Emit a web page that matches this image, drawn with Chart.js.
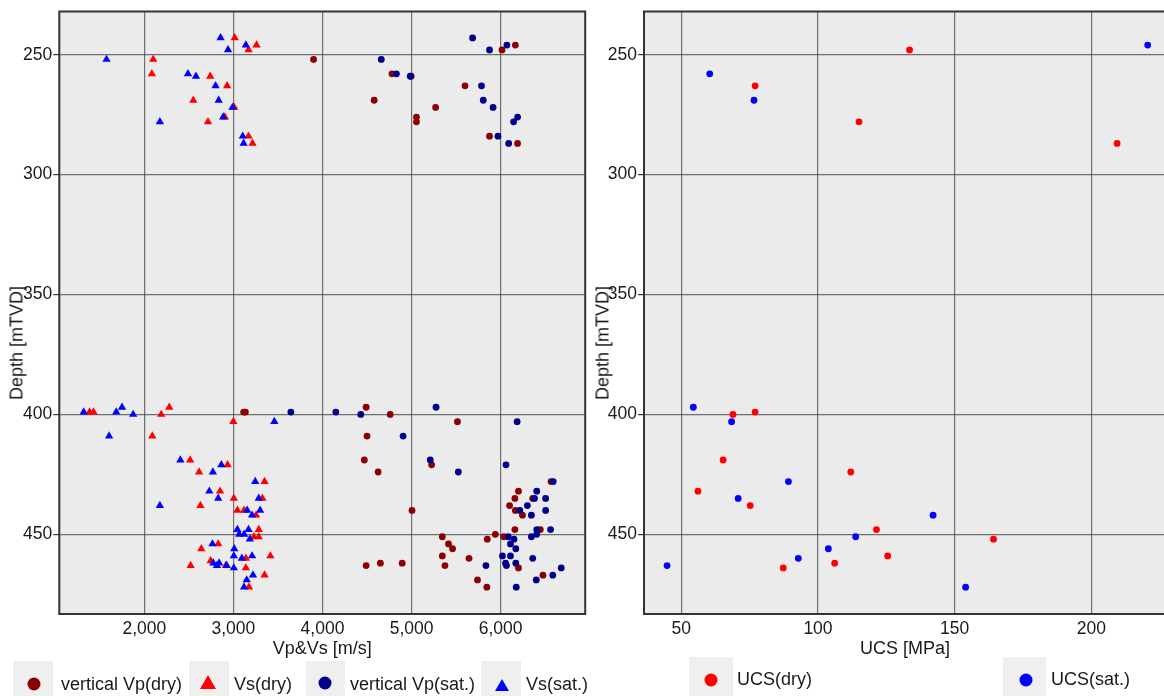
<!DOCTYPE html>
<html>
<head>
<meta charset="utf-8">
<script src="https://cdn.jsdelivr.net/npm/chart.js@4.4.1/dist/chart.umd.min.js"></script>
<style>
html,body{margin:0;padding:0;background:#fff;width:1164px;height:696px;overflow:hidden;font-family:"Liberation Sans",Arial,sans-serif;color:#1a1a1a}
#wrapL{position:absolute;left:0;top:0;width:590px;height:672px}
#wrapR{position:absolute;left:590px;top:0;width:580px;height:672px}
.ytitle{position:absolute;font-size:18px;white-space:nowrap;transform:translate(-50%,-50%) rotate(-90deg)}
.box{position:absolute;background:#efefef;height:40px}
.lab{position:absolute;font-size:18px;white-space:nowrap;transform:translateY(-50%)}
.dot{position:absolute;width:13px;height:13px;border-radius:50%;transform:translate(-50%,-50%)}
.tri{position:absolute;width:0;height:0;transform:translate(-50%,-50%)}
</style>
</head>
<body>
<div id="wrapL"><canvas id="velChart" width="590" height="672"></canvas></div>
<div id="wrapR"><canvas id="ucsChart" width="580" height="672"></canvas></div>

<div class="ytitle" style="left:17px;top:343px">Depth [mTVD]</div>
<div class="ytitle" style="left:603px;top:343px">Depth [mTVD]</div>

<!-- legend, left panel -->
<div class="box" style="left:13px;top:661px;width:40px"></div>
<div class="dot" style="left:34px;top:684px;background:#8b0000"></div>
<div class="lab" style="left:61px;top:684px">vertical Vp(dry)</div>
<div class="box" style="left:189px;top:661px;width:40px"></div>
<div class="tri" style="left:208px;top:682px;border-left:8px solid transparent;border-right:8px solid transparent;border-bottom:14px solid #ff0000"></div>
<div class="lab" style="left:234px;top:684px">Vs(dry)</div>
<div class="box" style="left:306px;top:661px;width:39px"></div>
<div class="dot" style="left:325px;top:683px;background:#00008b"></div>
<div class="lab" style="left:350px;top:684px">vertical Vp(sat.)</div>
<div class="box" style="left:481px;top:661px;width:40px"></div>
<div class="tri" style="left:502px;top:685px;border-left:7px solid transparent;border-right:7px solid transparent;border-bottom:12px solid #0000ff"></div>
<div class="lab" style="left:526px;top:684px">Vs(sat.)</div>

<!-- legend, right panel -->
<div class="box" style="left:689px;top:657px;width:44px"></div>
<div class="dot" style="left:711px;top:680px;background:#ff0000"></div>
<div class="lab" style="left:737px;top:679px">UCS(dry)</div>
<div class="box" style="left:1003px;top:657px;width:43px"></div>
<div class="dot" style="left:1026px;top:680px;background:#0000ff"></div>
<div class="lab" style="left:1051px;top:679px">UCS(sat.)</div>

<script>
/* Data */

const depthTicks=[250,300,350,400,450];
const velTicks=[2000,3000,4000,5000,6000];
const ucsTicks=[50,100,150,200];

const vpDryVel=[3900,4780,4995,4580,5055,5055,5270,5600,6015,6165,5875,6190,
3115,3135,4490,4760,4500,4470,4625,5515,5225,5005,4490,4650,4895,6565,6200,6160,6360,6100,6165,6245,6160,6445,5940,5850,6035,5345,5415,5460,5345,5645,5375,6200,6475,5740,5845];
const vpDryDepth=[252,258,259,269,276,278,272,263,248,246,284,287,
399,399,397,400,409,419,424,403,421,440,463,462,462,428,432,435,435,438,440,442,448,448,450,452,451,451,454,456,459,460,463,464,467,469,472];

const vsDryVel=[3015,3170,3260,2100,2085,2740,2930,2550,3010,2905,2715,3170,3215,
1385,1430,2190,2280,2090,3000,2515,2615,2935,3350,2850,3005,3325,2630,3045,3120,3255,3285,3230,3285,2830,2640,3140,3415,2520,2745,2915,3140,3350,3175];
const vsDryDepth=[243,248,246,252,258,259,263,269,272,276,278,284,287,
399,399,400,397,409,403,419,424,421,428,432,435,435,438,440,440,442,448,451,451,454,456,460,459,463,461,463,464,467,472];

const vpSatVel=[4660,4830,4985,5685,5875,6070,5785,5805,5915,6190,6145,5970,6090,
3645,4150,4430,5275,6185,4905,5210,5525,6060,6590,6405,6505,6380,6300,6215,6345,6505,6405,6560,6405,6345,6085,6150,6110,6170,6020,6110,6055,6065,6170,6360,5835,6680,6585,6400,6175];
const vpSatDepth=[252,258,259,243,248,246,263,269,272,276,278,284,287,
399,399,400,397,403,409,419,424,421,428,432,435,435,438,440,442,440,448,448,450,451,451,452,454,456,459,459,462,463,462,460,463,464,467,469,472];

const vsSatVel=[1576,2856,2940,3140,2490,2580,2800,2835,2990,2885,2175,3105,3115,
1320,1685,1750,1875,1605,3460,2405,2770,2865,3245,2730,2830,3285,2175,3155,3210,3300,3045,3170,3065,3120,3185,2765,3010,3005,3095,3210,2775,2815,2840,2925,3005,3220,3150,3120];
const vsSatDepth=[252,243,248,246,258,259,263,269,272,276,278,284,287,
399,399,397,400,409,403,419,424,421,428,432,435,435,438,440,442,440,448,448,450,450,452,454,456,459,460,459,462,463,462,463,464,467,469,472];

const ucsDry=[77,115,133.5,209.4,68.9,77,65.3,112,56.1,75.2,121.4,164.2,125.5,106.1,87.3];
const ucsDryDepth=[263,278,248,287,400,399,419,424,432,438,448,452,459,462,464];

const ucsSat=[60.4,76.6,220.6,54.4,68.4,89.2,70.8,142.1,113.8,103.8,92.8,44.8,154];
const ucsSatDepth=[258,269,246,397,403,428,435,442,451,456,460,463,472];

/* Helpers */

const pts=(xs,ys)=>xs.map((x,i)=>({x:x,y:ys[i]}));

const tickFont={family:"'Liberation Sans', Arial, sans-serif",size:17.5};
const titleFont={family:"'Liberation Sans', Arial, sans-serif",size:18};

/* grey plot area with a dark frame */
const plotFrame={
id:"plotFrame",
beforeDraw(chart){
const {ctx,chartArea:a}=chart;
ctx.save();
ctx.fillStyle="#ebebeb";
ctx.fillRect(a.left,a.top,a.right-a.left,a.bottom-a.top);
ctx.restore();
},
afterDraw(chart){
const {ctx,chartArea:a}=chart;
ctx.save();
ctx.strokeStyle="#333";
ctx.lineWidth=2;
ctx.strokeRect(a.left,a.top,a.right-a.left,a.bottom-a.top);
ctx.restore();
}
};

function scatterSet(data,color,style,radius,order){
return{
data:data,
pointStyle:style,
pointRadius:radius,
backgroundColor:color,
borderColor:color,
borderWidth:0,
order:order
};
}

function makeOptions(xmin,xmax,xTickVals,xTitle,yWidth,fmt){
return{
responsive:false,
animation:false,
events:[],
layout:{padding:{left:0,top:10,right:0,bottom:0}},
plugins:{legend:{display:false},tooltip:{enabled:false}},
scales:{
x:{
type:"linear",
min:xmin,
max:xmax,
afterBuildTicks:s=>{s.ticks=xTickVals.map(v=>({value:v}));},
afterFit:s=>{s.height=58;},
grid:{color:"rgba(70,70,70,0.75)",lineWidth:1.2,drawTicks:false},
border:{display:false},
ticks:{font:tickFont,color:"#1a1a1a",padding:5,maxRotation:0,callback:fmt},
title:{display:true,text:xTitle,font:titleFont,color:"#1a1a1a",padding:{top:0,bottom:12}}
},
y:{
type:"linear",
reverse:true,
min:232,
max:483.2,
afterBuildTicks:s=>{s.ticks=depthTicks.map(v=>({value:v}));},
afterFit:s=>{s.width=yWidth;},
grid:{color:"rgba(70,70,70,0.75)",lineWidth:1.2,drawTicks:true,tickLength:6,tickColor:"#333"},
border:{display:false},
ticks:{font:tickFont,color:"#1a1a1a",padding:1}
}
}
};
}

/* Velocity chart */

const velOpts=makeOptions(1046,6949,velTicks,"Vp&Vs [m/s]",59.3,v=>v.toLocaleString("en-US"));
velOpts.layout.padding.right=2.6;

new Chart(document.getElementById("velChart"),{
type:"scatter",
data:{
datasets:[
scatterSet(pts(vpDryVel,vpDryDepth),"#8b0000","circle",3.4,4),
scatterSet(pts(vsDryVel,vsDryDepth),"#ff0000","triangle",4.8,3),
scatterSet(pts(vpSatVel,vpSatDepth),"#00008b","circle",3.4,2),
scatterSet(pts(vsSatVel,vsSatDepth),"#0000ff","triangle",4.8,1)
]
},
options:velOpts,
plugins:[plotFrame]
});

/* UCS chart */

const ucsOpts=makeOptions(36.36,227.3,ucsTicks,"UCS [MPa]",54,v=>v);
ucsOpts.layout.padding.right=4;

new Chart(document.getElementById("ucsChart"),{
type:"scatter",
data:{
datasets:[
scatterSet(pts(ucsDry,ucsDryDepth),"#ff0000","circle",3.4,2),
scatterSet(pts(ucsSat,ucsSatDepth),"#0000ff","circle",3.4,1)
]
},
options:ucsOpts,
plugins:[plotFrame]
});
</script>
</body>
</html>
